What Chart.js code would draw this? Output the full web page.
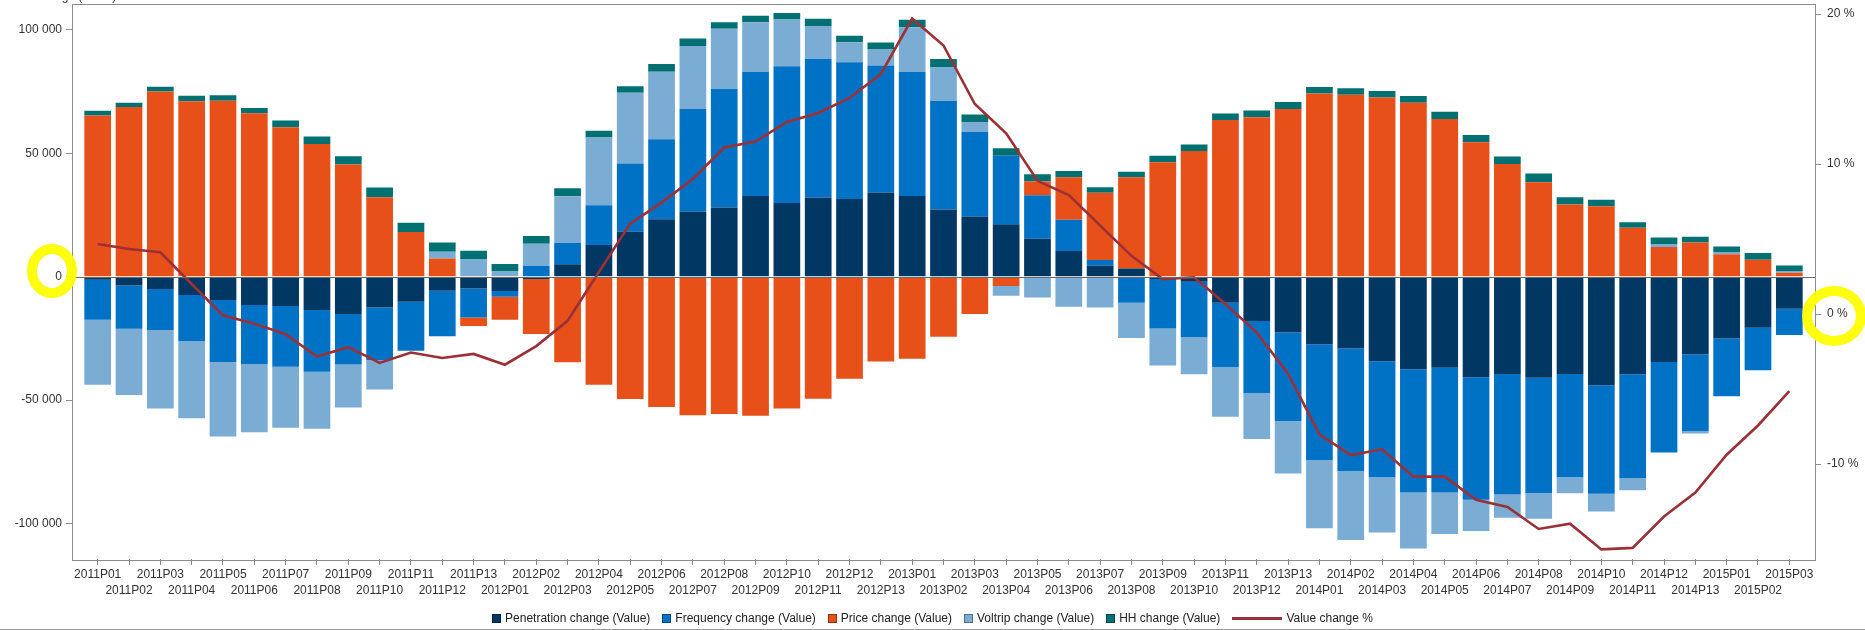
<!DOCTYPE html>
<html>
<head>
<meta charset="utf-8">
<script src="https://cdn.jsdelivr.net/npm/chart.js@4.4.0/dist/chart.umd.min.js"></script>
<style>
  body { margin: 0; background: #fff; }
  #wrap { position: relative; width: 1865px; height: 630px; overflow: hidden; font-family: "Liberation Sans", Arial, sans-serif; }
  #chart { position: absolute; left: 0; top: 0; }
  #axisTitle { position: absolute; left: 33px; top: -10px; font-size: 12px; line-height: 12px; color: #333; white-space: nowrap; }
  #legend { position: absolute; left: 0; top: 609px; width: 1865px; height: 18px; display: flex; justify-content: center; align-items: center; font-size: 12px; color: #222; }
  .item { display: flex; align-items: center; margin: 0 6px; white-space: nowrap; }
  .box { width: 9px; height: 9px; margin-right: 4px; box-sizing: border-box; border: 1px solid rgba(0,0,0,.35); }
  .lineKey { width: 50px; height: 3px; margin-right: 4px; }
  #bottomRule { position: absolute; left: 0; top: 629px; width: 1865px; height: 1px; background: #999; }
</style>
</head>
<body>
<div id="wrap">
  <canvas id="chart" width="1865" height="630"></canvas>
  <div id="axisTitle">Change (Value)</div>
  <div id="legend"></div>
  <div id="bottomRule"></div>
</div>
<script>
// periods on the x axis
const categories = [
  '2011P01','2011P02','2011P03','2011P04','2011P05','2011P06','2011P07','2011P08','2011P09','2011P10','2011P11','2011P12','2011P13',
  '2012P01','2012P02','2012P03','2012P04','2012P05','2012P06','2012P07','2012P08','2012P09','2012P10','2012P11','2012P12','2012P13',
  '2013P01','2013P02','2013P03','2013P04','2013P05','2013P06','2013P07','2013P08','2013P09','2013P10','2013P11','2013P12','2013P13',
  '2014P01','2014P02','2014P03','2014P04','2014P05','2014P06','2014P07','2014P08','2014P09','2014P10','2014P11','2014P12','2014P13',
  '2015P01','2015P02','2015P03'
];

// stacked contributions (value)
const penetration = [
  -1200, -3600, -5000, -7400, -9400, -11500, -11900, -13500, -15100, -12500, -10200, -5700, -4800,
  -5800, -900, 5000, 12800, 18300, 23300, 26300, 28000, 32700, 29900, 32100, 31500, 34100,
  32700, 27200, 24400, 21200, 15400, 10400, 4500, 3300, -900, -2100, -10600, -18000, -22600,
  -27400, -29100, -34300, -37500, -36900, -40800, -39400, -41000, -39400, -44000, -39500, -34600, -31400,
  -24900, -20700, -13000
];
const frequency = [
  -16300, -17500, -16600, -18800, -25200, -23900, -24600, -25000, -20500, -21300, -19800, -18400, -11700,
  -2300, 4300, 8700, 16100, 27600, 32400, 41600, 48200, 50300, 55400, 56100, 55400, 51500,
  50200, 44100, 34300, 27800, 17600, 12700, 2300, -10600, -20100, -22400, -26000, -29100, -35900,
  -46900, -49700, -47000, -50000, -50600, -49600, -48900, -46700, -41900, -44000, -42100, -36600, -31100,
  -23600, -17200, -10600
];
const price = [
  65300, 68800, 75000, 71100, 71300, 66200, 60600, 53800, 45500, 32200, 18100, 7400, -3500,
  -9400, -22300, -34700, -43800, -49600, -52800, -56100, -55600, -56400, -53400, -49500, -41400, -34400,
  -33300, -24300, -15100, -3800, 5600, 17200, 27200, 37000, 46400, 50900, 63500, 64600, 67900,
  74200, 73700, 72600, 70500, 63900, 54500, 45700, 38300, 29300, 28500, 19800, 12000, 13900,
  9100, 6900, 1600
];
const voltrip = [
  -26300, -26800, -31800, -31200, -30200, -27600, -24700, -23100, -17400, -11900, 0, 2700, 7200,
  2100, 9000, 18900, 27500, 28600, 27300, 25600, 24300, 20100, 18900, 13400, 8100, 6700,
  18200, 13700, 4000, -3900, -8400, -12200, -12500, -14200, -15000, -15000, -20200, -18700, -21300,
  -27600, -27900, -22400, -22600, -16800, -12700, -9400, -10400, -6500, -7200, -4900, 1200, -1000,
  900, 0, 700
];
const hh = [
  1900, 1700, 2000, 2200, 2200, 2200, 2700, 3000, 3300, 3900, 3800, 3800, 3300,
  3000, 3200, 3200, 2700, 2700, 3200, 3000, 2600, 2600, 2600, 2900, 2600, 2600,
  3000, 3200, 3000, 3000, 2900, 2500, 2200, 2200, 2600, 2700, 2600, 2700, 2900,
  2700, 2700, 2600, 2700, 2900, 2900, 3000, 3500, 2900, 2700, 2300, 2700, 2300,
  2200, 2700, 2200
];

// value change in percent (right axis)
const valueChange = [
  4.67, 4.34, 4.12, 2.0, -0.09, -0.64, -1.35, -2.83, -2.21, -3.26, -2.57, -2.93, -2.66,
  -3.38, -2.14, -0.45, 2.8, 6.03, 7.43, 9.0, 11.1, 11.5, 12.8, 13.4, 14.4, 16.0,
  19.7, 17.9, 14.0, 12.05, 8.88, 7.93, 5.9, 3.88, 2.33, 2.45, 0.67, -1.24, -3.98,
  -8.02, -9.4, -9.02, -10.84, -10.84, -12.38, -12.86, -14.33, -13.98, -15.69, -15.59, -13.5, -11.9,
  -9.38, -7.43, -5.14
];

const leftTicks = [-100000, -50000, 0, 50000, 100000];
const rightTicks = [-10, 0, 10, 20];

const seriesNames = ['Penetration change (Value)', 'Frequency change (Value)', 'Price change (Value)', 'Voltrip change (Value)', 'HH change (Value)'];
const seriesColors = ['#003763', '#0072c6', '#e8501a', '#7badd4', '#007073'];
const lineName = 'Value change %';
const lineColor = '#9b3036';

const tickFont = { family: '"Liberation Sans", Arial, sans-serif', size: 12 };
const axisGrey = '#8c8c8c';

function spaced(v) {
  const s = String(Math.abs(v)).replace(/\B(?=(\d{3})+(?!\d))/g, ' ');
  return v < 0 ? '-' + s : s;
}
function points(arr) {
  return arr.map((v, i) => ({ x: i, y: v }));
}

const barSets = [penetration, frequency, price, voltrip, hh].map((arr, k) => ({
  type: 'bar',
  label: seriesNames[k],
  data: points(arr),
  backgroundColor: seriesColors[k],
  borderWidth: 0,
  categoryPercentage: 1,
  barPercentage: 0.853,
  yAxisID: 'y',
  order: 0
}));

const lineSet = {
  type: 'line',
  label: lineName,
  data: points(valueChange),
  borderColor: lineColor,
  borderWidth: 2.6,
  pointRadius: 0,
  tension: 0,
  yAxisID: 'y1',
  order: -1
};

// frame, zero line and the yellow highlight marks
const decorations = {
  id: 'decorations',
  afterDatasetsDraw(chart) {
    const { ctx, chartArea: a, scales } = chart;
    const y0 = Math.round(scales.y.getPixelForValue(0)) + 0.5;
    ctx.save();
    ctx.strokeStyle = '#6a6a6a';
    ctx.lineWidth = 1;
    ctx.beginPath();
    ctx.moveTo(a.left, y0);
    ctx.lineTo(a.right, y0);
    ctx.stroke();
    ctx.strokeStyle = axisGrey;
    ctx.strokeRect(Math.round(a.left) + 0.5, Math.round(a.top) + 0.5, Math.round(a.right - a.left), Math.round(a.bottom - a.top));
    ctx.restore();
  },
  afterDraw(chart) {
    const ctx = chart.ctx;
    ctx.save();
    ctx.strokeStyle = 'rgba(255,255,0,0.95)';
    ctx.lineWidth = 10;
    ctx.beginPath();
    ctx.ellipse(52, 271, 20, 22, 0, 0, Math.PI * 2);
    ctx.stroke();
    ctx.beginPath();
    ctx.ellipse(1834, 316, 27, 25, 0, 0, Math.PI * 2);
    ctx.stroke();
    ctx.restore();
  }
};

new Chart(document.getElementById('chart'), {
  type: 'bar',
  data: { datasets: [...barSets, lineSet] },
  options: {
    responsive: false,
    animation: false,
    devicePixelRatio: 1,
    layout: { padding: { top: 3.5, bottom: 26, left: 0, right: 0 } },
    plugins: { legend: { display: false }, tooltip: { enabled: false } },
    scales: {
      x: {
        type: 'linear',
        offset: false,
        min: -0.82,
        max: 54.82,
        stacked: true,
        afterBuildTicks: s => { s.ticks = categories.map((c, i) => ({ value: i })); },
        ticks: {
          autoSkip: false,
          maxRotation: 0,
          minRotation: 0,
          padding: 2,
          color: '#333',
          font: Object.assign({ lineHeight: 16 / 12 }, tickFont),
          callback: v => (v % 2 === 0 ? categories[v] : ['', categories[v]])
        },
        grid: { offset: false, drawOnChartArea: false, drawTicks: true, tickLength: 6, tickColor: axisGrey },
        border: { display: false },
        afterFit: s => { s.height = 45; s.paddingLeft = 0; s.paddingRight = 0; }
      },
      y: {
        position: 'left',
        stacked: true,
        min: -114400,
        max: 110700,
        afterBuildTicks: s => { s.ticks = leftTicks.map(v => ({ value: v })); },
        ticks: { padding: 4, color: '#333', font: tickFont, callback: v => spaced(v) },
        grid: { drawOnChartArea: false, tickLength: 6, tickColor: axisGrey },
        border: { display: false },
        afterFit: s => { s.width = 72; s.paddingTop = 0; s.paddingBottom = 0; }
      },
      y1: {
        position: 'right',
        min: -16.33,
        max: 20.7,
        afterBuildTicks: s => { s.ticks = rightTicks.map(v => ({ value: v })); },
        ticks: { padding: 6, color: '#333', font: tickFont, callback: v => v + ' %' },
        grid: { drawOnChartArea: false, tickLength: 6, tickColor: axisGrey },
        border: { display: false },
        afterFit: s => { s.width = 50; s.paddingTop = 0; s.paddingBottom = 0; }
      }
    }
  },
  plugins: [decorations]
});

// html legend
const legend = document.getElementById('legend');
seriesNames.forEach((name, k) => {
  const item = document.createElement('div');
  item.className = 'item';
  item.innerHTML = '<span class="box" style="background:' + seriesColors[k] + '"></span><span>' + name + '</span>';
  legend.appendChild(item);
});
const lineItem = document.createElement('div');
lineItem.className = 'item';
lineItem.innerHTML = '<span class="lineKey" style="background:' + lineColor + '"></span><span>' + lineName + '</span>';
legend.appendChild(lineItem);
</script>
</body>
</html>
